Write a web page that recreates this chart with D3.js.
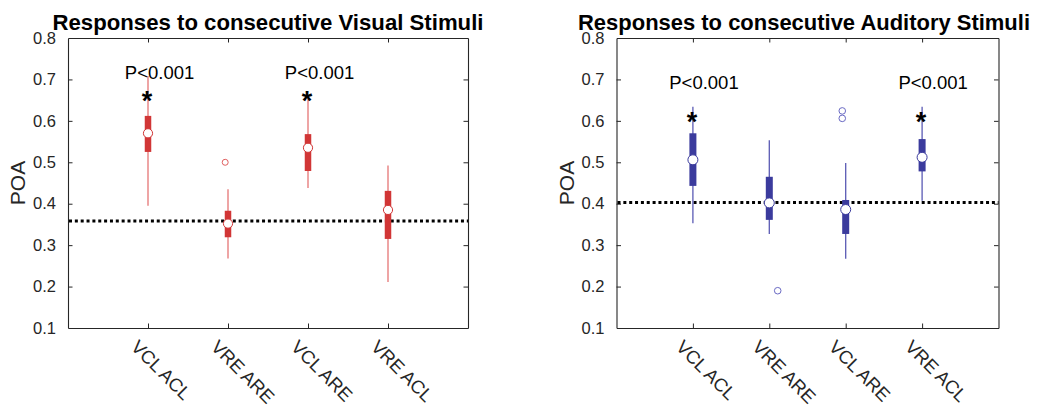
<!DOCTYPE html>
<html>
<head>
<meta charset="utf-8">
<script src="https://cdn.jsdelivr.net/npm/d3@7"></script>
<style>
  html, body { margin: 0; padding: 0; background: #fff; }
  svg { display: block; font-family: "Liberation Sans", Arial, Helvetica, sans-serif; }
</style>
</head>
<body>
<svg id="chart" width="1040" height="410"></svg>
<script>
// ---------- data ----------
const categories = ["VCL ACL", "VRE ARE", "VCL ARE", "VRE ACL"];
const yTickValues = [0.1, 0.2, 0.3, 0.4, 0.5, 0.6, 0.7, 0.8];
const yTickLabels = ["0.1", "0.2", "0.3", "0.4", "0.5", "0.6", "0.7", "0.8"];

// Visual stimuli
const visWhiskerLow  = [0.395, 0.268, 0.438, 0.211];
const visQ1          = [0.525, 0.319, 0.479, 0.315];
const visMedian      = [0.570, 0.352, 0.535, 0.385];
const visQ3          = [0.612, 0.383, 0.568, 0.431];
const visWhiskerHigh = [0.708, 0.435, 0.652, 0.492];
const visOutlierCat    = [2];
const visOutlierValue  = [0.500];
const visOutlierJitter = [-0.035];
const visChance = 0.358;
const visSigCat = [1, 3];
const visSigText = ["P<0.001", "P<0.001"];
const visSigTextY = 0.700;
const visStarY = 0.662;

// Auditory stimuli
const audWhiskerLow  = [0.353, 0.327, 0.267, 0.407];
const audQ1          = [0.443, 0.361, 0.327, 0.478];
const audMedian      = [0.506, 0.402, 0.386, 0.512];
const audQ3          = [0.570, 0.465, 0.409, 0.556];
const audWhiskerHigh = [0.634, 0.553, 0.498, 0.634];
const audOutlierCat    = [2, 3, 3];
const audOutlierValue  = [0.190, 0.624, 0.606];
const audOutlierJitter = [0.11, -0.045, -0.045];
const audChance = 0.403;
const audSigCat = [1, 4];
const audSigText = ["P<0.001", "P<0.001"];
const audSigTextY = 0.678;
const audStarY = 0.612;

// ---------- drawing ----------
const svg = d3.select("#chart");
const axisColor = "#262626";

function drawPanel(cfg) {
  const x = d3.scaleLinear().domain([0, 5]).range([cfg.left, cfg.right]);
  const y = d3.scaleLinear().domain([0.1, 0.8]).range([cfg.bottom, cfg.top]);
  const g = svg.append("g");

  // title
  g.append("text")
    .attr("x", cfg.titleX).attr("y", 29.5)
    .attr("text-anchor", "middle")
    .attr("font-weight", "bold")
    .attr("font-size", 21.5)
    .attr("textLength", cfg.titleLen)
    .attr("lengthAdjust", "spacingAndGlyphs")
    .attr("fill", "#000")
    .text(cfg.title);

  // y label
  g.append("text")
    .attr("transform", `translate(${cfg.left - 43},${(cfg.top + cfg.bottom) / 2}) rotate(-90)`)
    .attr("text-anchor", "middle")
    .attr("font-size", 21)
    .attr("fill", axisColor)
    .text("POA");

  // axes with ticks (inward)
  const tickLen = 4.5;
  const axL = d3.axisLeft(y).tickValues(yTickValues).tickFormat((d, i) => yTickLabels[i]).tickSizeInner(-tickLen).tickSizeOuter(0).tickPadding(7.5 + tickLen);
  const axR = d3.axisRight(y).tickValues(yTickValues).tickFormat("").tickSizeInner(-tickLen).tickSizeOuter(0);
  const xTickVals = categories.map((c, i) => i + 1);
  const axB = d3.axisBottom(x).tickValues(xTickVals).tickFormat("").tickSizeInner(-tickLen).tickSizeOuter(0);
  const axT = d3.axisTop(x).tickValues(xTickVals).tickFormat("").tickSizeInner(-tickLen).tickSizeOuter(0);

  const gl = g.append("g").attr("transform", `translate(${cfg.left},0)`).call(axL);
  const gr = g.append("g").attr("transform", `translate(${cfg.right},0)`).call(axR);
  const gb = g.append("g").attr("transform", `translate(0,${cfg.bottom})`).call(axB);
  const gt = g.append("g").attr("transform", `translate(0,${cfg.top})`).call(axT);
  [gl, gr, gb, gt].forEach(a => {
    a.select(".domain").attr("stroke", axisColor).attr("stroke-width", 1.1);
    a.selectAll(".tick line").attr("stroke", axisColor).attr("stroke-width", 1);
  });
  gl.selectAll(".tick line").filter(d => d === 0.1 || d === 0.8).remove();
  gr.selectAll(".tick line").filter(d => d === 0.1 || d === 0.8).remove();
  gl.selectAll(".tick text")
    .attr("font-size", 16.5)
    .attr("fill", axisColor)
    .attr("font-family", "'Liberation Sans', Arial, sans-serif");

  // x tick labels rotated
  g.selectAll(".xlab").data(categories).enter().append("text")
    .attr("class", "xlab")
    .attr("transform", (d, i) => `translate(${x(i + 1) - 18},${cfg.bottom + 20}) rotate(45)`)
    .attr("text-anchor", "start")
    .attr("font-size", 18.5)
    .attr("fill", axisColor)
    .text(d => d);

  // chance dotted line
  g.append("line")
    .attr("x1", cfg.left + 1).attr("x2", cfg.right)
    .attr("y1", y(cfg.chance)).attr("y2", y(cfg.chance))
    .attr("stroke", "#000").attr("stroke-width", 3)
    .attr("stroke-dasharray", "3,2.85");

  // whiskers
  g.selectAll(".whisker").data(categories).enter().append("line")
    .attr("x1", (d, i) => x(i + 1)).attr("x2", (d, i) => x(i + 1))
    .attr("y1", (d, i) => y(cfg.wLow[i])).attr("y2", (d, i) => y(cfg.wHigh[i]))
    .attr("stroke", cfg.whiskerColor).attr("stroke-width", cfg.whiskerWidth);

  // boxes
  g.selectAll(".box").data(categories).enter().append("rect")
    .attr("x", (d, i) => x(i + 1) - cfg.boxW / 2)
    .attr("width", cfg.boxW)
    .attr("y", (d, i) => y(cfg.q3[i]))
    .attr("height", (d, i) => y(cfg.q1[i]) - y(cfg.q3[i]))
    .attr("fill", cfg.boxColor);

  // medians
  g.selectAll(".med").data(categories).enter().append("circle")
    .attr("cx", (d, i) => x(i + 1))
    .attr("cy", (d, i) => y(cfg.median[i]))
    .attr("r", cfg.medR)
    .attr("fill", "#fff")
    .attr("stroke", cfg.boxColor).attr("stroke-width", 1);

  // outliers
  g.selectAll(".out").data(cfg.outCat).enter().append("circle")
    .attr("cx", (d, i) => x(d + cfg.outJitter[i]))
    .attr("cy", (d, i) => y(cfg.outVal[i]))
    .attr("r", cfg.outR)
    .attr("fill", "none")
    .attr("stroke", cfg.outColor).attr("stroke-width", 1);

  // significance text
  g.selectAll(".ptext").data(cfg.sigCat).enter().append("text")
    .attr("x", d => x(d + 0.145))
    .attr("y", y(cfg.sigTextY))
    .attr("text-anchor", "middle")
    .attr("font-size", 18.5)
    .attr("fill", "#000")
    .text((d, i) => cfg.sigText[i]);

  // stars
  g.selectAll(".star").data(cfg.sigCat).enter().append("text")
    .attr("x", d => x(d) - 1)
    .attr("y", y(cfg.starY) + 15)
    .attr("text-anchor", "middle")
    .attr("font-size", 27)
    .attr("font-weight", "bold")
    .attr("fill", "#000")
    .text("*");
}

drawPanel({
  left: 68, right: 468, top: 38, bottom: 328,
  title: "Responses to consecutive Visual Stimuli", titleX: 268, titleLen: 431,
  wLow: visWhiskerLow, q1: visQ1, median: visMedian, q3: visQ3, wHigh: visWhiskerHigh,
  outCat: visOutlierCat, outVal: visOutlierValue, outJitter: visOutlierJitter,
  chance: visChance, sigCat: visSigCat, sigText: visSigText, sigTextY: visSigTextY, starY: visStarY,
  boxColor: "#d13636", whiskerColor: "#eea5a5", whiskerWidth: 2, outColor: "#e06060",
  boxW: 6.5, medR: 4.6, outR: 3
});

drawPanel({
  left: 616.5, right: 998.5, top: 38, bottom: 328,
  title: "Responses to consecutive Auditory Stimuli", titleX: 804, titleLen: 452,
  wLow: audWhiskerLow, q1: audQ1, median: audMedian, q3: audQ3, wHigh: audWhiskerHigh,
  outCat: audOutlierCat, outVal: audOutlierValue, outJitter: audOutlierJitter,
  chance: audChance, sigCat: audSigCat, sigText: audSigText, sigTextY: audSigTextY, starY: audStarY,
  boxColor: "#3b3b9d", whiskerColor: "#5a5ab4", whiskerWidth: 1.3, outColor: "#6a6ac4",
  boxW: 7, medR: 5, outR: 3.3
});
</script>
</body>
</html>
